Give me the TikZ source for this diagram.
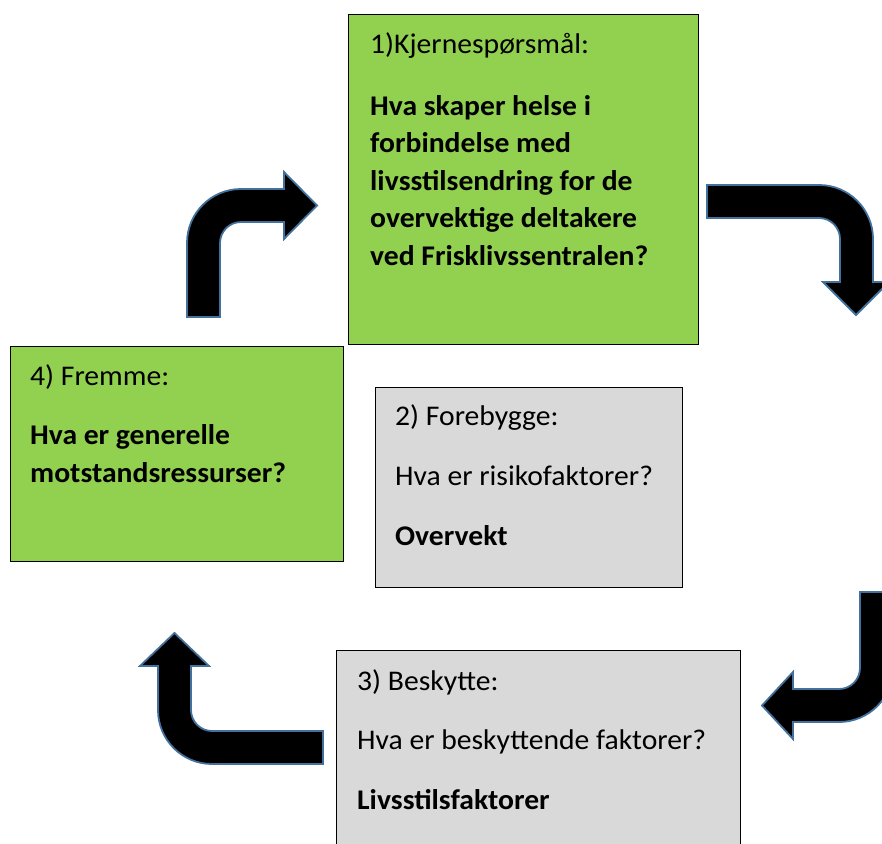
\documentclass[tikz,border=0pt]{standalone}
\usepackage{fontspec}
\setmainfont{Carlito}[FakeStretch=1.04]
\definecolor{gronn}{RGB}{146,208,80}
\definecolor{gra}{RGB}{217,217,217}
\definecolor{pilkant}{RGB}{65,113,156}
\tikzset{
	boks/.style={draw=black,line width=1.4pt,anchor=north west,inner sep=0pt},
	tekst/.style={font=\fontsize{28.5}{37.5}\selectfont,inner sep=0pt,anchor=base west,align=left},
	fet/.style={tekst,font=\fontsize{28.5}{37.5}\selectfont\bfseries},
	pil/.style={fill=black,draw=pilkant,line width=1.8pt,line join=miter}
}
\begin{document}
\begin{tikzpicture}[x=1pt,y=-1pt]
		\useasboundingbox(0,0)rectangle(882,843);
		\clip(0,0)rectangle(882,843);
		\fill[white](0,0)rectangle(882,843);
		% boksene
		\node[boks,fill=gronn,minimum width=350pt,minimum height=330pt](kjerne)at(348,14){};
		\node[boks,fill=gra,minimum width=307pt,minimum height=200pt](forebygge)at(375,387){};
		\node[boks,fill=gra,minimum width=404pt,minimum height=220pt](beskytte)at(336,650){};
		\node[boks,fill=gronn,minimum width=333pt,minimum height=215pt](fremme)at(10,346){};
		% tekstene (base = siste linje)
		\node[tekst](kjerne1)at(370,53){1)Kjernespørsmål:};
		\node[fet](kjerne2)at(370,265)
			{Hva skaper helse i\\forbindelse med\\livsstilsendring for de\\overvektige deltakere\\ved Frisklivssentralen?};
		\node[tekst](forebygge1)at(395,425){2) Forebygge:};
		\node[tekst](forebygge2)at(395,485){Hva er risikofaktorer?};
		\node[fet](forebygge3)at(395,545){Overvekt};
		\node[tekst](beskytte1)at(357,690){3) Beskytte:};
		\node[tekst](beskytte2)at(357,749){Hva er beskyttende faktorer?};
		\node[fet](beskytte3)at(357,809){Livsstilsfaktorer};
		\node[tekst](fremme1)at(30,385){4) Fremme:};
		\node[fet](fremme2)at(30,482)
			{Hva er generelle\\motstandsressurser?};
		% pilene
		\draw[pil](187,317)--(187,243)arc[start angle=180,end angle=90,radius=54pt]
			--(284,189)--(284,172)--(317,205.5)--(284,239)--(284,222)--(241,222)
			arc[start angle=90,end angle=180,radius=21pt]--(220,317)--cycle;
		\draw[pil](707,185)--(819,185)arc[start angle=90,end angle=0,radius=54pt]
			--(873,282)--(889,282)--(856,315)--(823,282)--(840,282)--(840,239)
			arc[start angle=0,end angle=90,radius=21pt]--(707,218)--cycle;
		\draw[pil](860,592)--(860,668)arc[start angle=0,end angle=-90,radius=21pt]
			--(793,689)--(793,672)--(762,705.5)--(793,739)--(793,722)--(839,722)
			arc[start angle=-90,end angle=0,radius=54pt]--(893,592)--cycle;
		\draw[pil](323,764)--(212,764)arc[start angle=-90,end angle=-180,radius=54pt]
			--(158,666)--(140,666)--(174.5,633)--(209,666)--(191,666)--(191,710)
			arc[start angle=180,end angle=270,radius=21pt]--(323,731)--cycle;
	\end{tikzpicture}
\end{document}
